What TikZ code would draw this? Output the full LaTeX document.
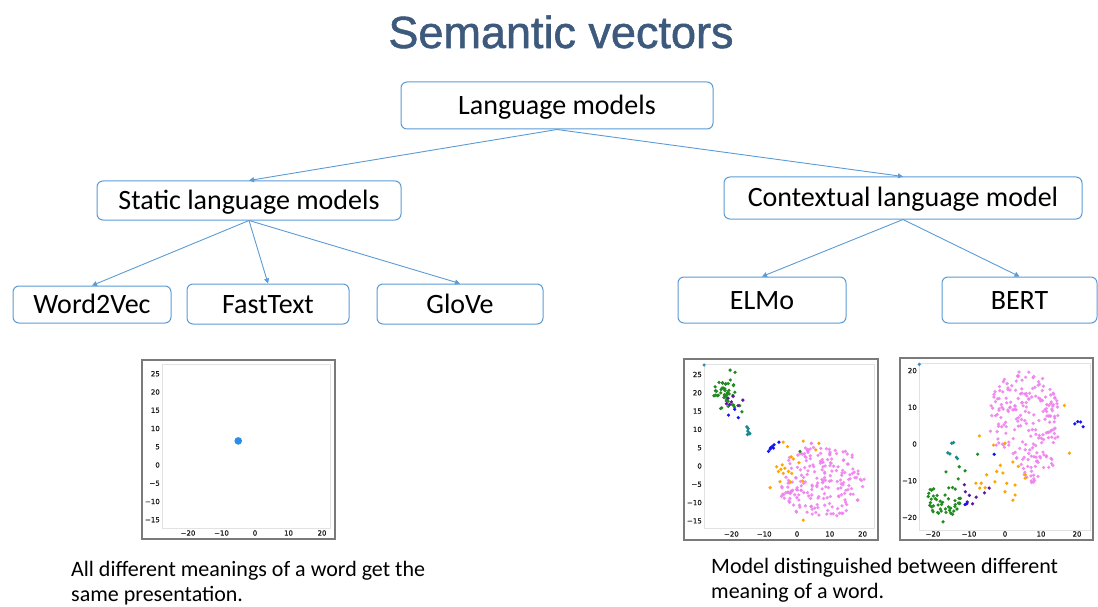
\documentclass[tikz,border=0pt]{standalone}
\usepackage{fontspec}
\setmainfont{Carlito}
\newfontfamily\titlefont[FakeBold=1.2]{Liberation Sans}
\newfontfamily\tickfont[FakeBold=0.6]{DejaVu Sans}
\usetikzlibrary{arrows.meta}

\definecolor{boxblue}{HTML}{5B9BD5}
\definecolor{titleblue}{HTML}{3D5A7C}
\definecolor{framegray}{HTML}{7A7A7A}
\definecolor{spinegray}{HTML}{E2E2E2}
\definecolor{cpink}{HTML}{EE82EE}
\definecolor{cgreen}{HTML}{228B22}
\definecolor{corange}{HTML}{FFA500}
\definecolor{cblue}{HTML}{1515F0}
\definecolor{cpurple}{HTML}{5A1A9E}
\definecolor{cteal}{HTML}{178A8C}
\definecolor{csteel}{HTML}{3C8DB8}
\definecolor{cdot}{HTML}{2B8CEB}

\tikzset{
  box/.style={draw=boxblue, line width=1pt, rounded corners=6pt, fill=white,
    inner sep=0pt, font=\fontsize{28}{34}\selectfont, text height=18pt, text depth=0pt},
  conn/.style={draw=boxblue, line width=0.9pt, -{Triangle[length=5pt,width=5pt]}},
  outerframe/.style={draw=framegray, line width=1.6pt},
  spine/.style={draw=spinegray, line width=0.8pt},
  tick/.style={font=\tickfont\fontsize{7}{8}\selectfont, text=black!90, inner sep=0pt},
  note/.style={font=\fontsize{22}{24.5}\selectfont, align=left, inner sep=0pt},
  pk/.style={fill=cpink, fill opacity=0.9},
  gr/.style={fill=cgreen},
  og/.style={fill=corange},
  bl/.style={fill=cblue},
  pu/.style={fill=cpurple},
  tl/.style={fill=cteal},
  st/.style={fill=csteel},
}
\newcommand\scatterpts[2]{\foreach \p in {#2}{\fill[#1] \p circle[radius=1.8pt];}}

\begin{document}
\begin{tikzpicture}[x=1pt,y=-1pt]
\useasboundingbox (0,0) rectangle (1098,607);

% title
\node[font=\titlefont\fontsize{45}{54}\selectfont, text=titleblue, anchor=base, inner sep=0pt]
  (title) at (561,48) {Semantic vectors};

% tree of models
\node[box, minimum width=312pt, minimum height=47pt] (lm)    at (557,105.5) {Language models};
\node[box, minimum width=304pt, minimum height=39pt] (slm)   at (249,200.5) {Static language models};
\node[box, minimum width=358pt, minimum height=42pt] (clm)   at (903,198)   {Contextual language model};
\node[box, minimum width=158pt, minimum height=37pt] (w2v)   at (92,304.5)  {Word2Vec};
\node[box, minimum width=162pt, minimum height=40pt] (ft)    at (268,304)   {FastText};
\node[box, minimum width=166pt, minimum height=40pt] (glove) at (460,304)   {GloVe};
\node[box, minimum width=168pt, minimum height=46pt] (elmo)  at (762,300)   {ELMo};
\node[box, minimum width=155pt, minimum height=46pt] (bert)  at (1019.5,300) {BERT};

\draw[conn] (lm.south)  -- (slm.north);
\draw[conn] (lm.south)  -- (clm.north);
\draw[conn] (slm.south) -- (w2v.north);
\draw[conn] (slm.south) -- (ft.north);
\draw[conn] (slm.south) -- (glove.north);
\draw[conn] (clm.south) -- (elmo.north);
\draw[conn] (clm.south) -- (bert.north);

% ---------- static embedding plot ----------
\draw[outerframe] (142,360) rectangle (335,539);
\draw[spine] (162,364) rectangle (330,528);
\foreach \v/\t in {25/25,20/20,15/15,10/10,5/5,0/0,-5/−5,-10/−10,-15/−15}
  \node[tick, anchor=east] at (160,{465-3.65*\v}) {\t};
\foreach \v/\t in {-20/−20,-10/−10,0/0,10/10,20/20}
  \node[tick] at ({255+3.35*\v},533) {\t};
\begin{scope}[shift={(255,465)}, x=3.35pt, y=3.65pt]
  \fill[cdot] (-5,6.6) circle[radius=3.8pt];
\end{scope}

% ---------- ELMo plot ----------
\draw[outerframe] (684,359) rectangle (878,540);
\draw[spine] (704,364) rectangle (874,528);
\foreach \v/\t in {25/25,20/20,15/15,10/10,5/5,0/0,-5/−5,-10/−10,-15/−15}
  \node[tick, anchor=east] at (702,{466-3.66*\v}) {\t};
\foreach \v/\t in {-20/−20,-10/−10,0/0,10/10,20/20}
  \node[tick] at ({797+3.28*\v},534) {\t};
\begin{scope}[shift={(797,466)}, x=3.28pt, y=3.66pt]
  \pgfmathsetseed{11}
  \foreach \i in {1,...,210}{
    \pgfmathsetmacro\angv{360*rnd}
    \pgfmathsetmacro\radv{sqrt(rnd)}
    \fill[pk] ({7+13.5*\radv*cos(\angv)},{-4+10.5*\radv*sin(\angv)}) circle[radius=1.8pt];
  }
  \foreach \i in {1,...,45}{
    \pgfmathsetmacro\angv{360*rnd}
    \pgfmathsetmacro\radv{sqrt(rnd)}
    \fill[gr] ({-21.5+4*\radv*cos(\angv)},{19.5+4.3*\radv*sin(\angv)}) circle[radius=1.8pt];
  }
  \scatterpts{gr}{(-20.4,26.2),(-18.9,25.6),(0.9,4.0),(-17.5,16.5),(-16.8,14.8)}
  \scatterpts{pu}{(-21,18.5),(-20,17.5),(-19.5,19),(-21.5,17),(-16.5,18),(-18,16.5),(-20.5,16.8)}
  \scatterpts{bl}{(-20.9,13.9),(-17.9,13.2),(-19,15.5)}
  \scatterpts{tl}{(-15.3,10.7),(-14.9,10.2),(-15.0,9.5),(-14.5,9),(-15.1,8.6),(-14.4,8.8)}
  \scatterpts{bl}{(-8.7,4.0),(-8.2,4.6),(-7.6,5.3),(-7.0,5.8),(-7.2,4.9),(-8,5),(-5.5,6.5)}
  \scatterpts{og}{(-4.2,6.5),(-2.9,5.3),(1.9,6.8),(5.7,4.4),(6.7,6.2),(-1.8,2.5),(-1.1,1.9),
    (0.6,0.9),(-6.2,-0.2),(-4.9,-0.9),(-3.7,-0.6),(-4.2,-2.0),(-2.6,-1.5),(-5.2,-4.3),
    (-8.2,-5.9),(-2.1,-4.3),(1.7,-4.1),(1.9,-14.8),(-1.6,-2.0),(-5.7,-1.5),(-4.5,0.3)}
  \scatterpts{st}{(-28.3,27.6)}
\end{scope}

% ---------- BERT plot ----------
\draw[outerframe] (900,358) rectangle (1093,540);
\draw[spine] (919,363) rectangle (1090,530);
\foreach \v/\t in {20/20,10/10,0/0,-10/−10,-20/−20}
  \node[tick, anchor=east] at (917,{444-3.67*\v}) {\t};
\foreach \v/\t in {-20/−20,-10/−10,0/0,10/10,20/20}
  \node[tick] at ({1005+3.6*\v},534) {\t};
\begin{scope}[shift={(1005,444)}, x=3.6pt, y=3.67pt]
  \pgfmathsetseed{23}
  \foreach \i in {1,...,190}{
    \pgfmathsetmacro\angv{360*rnd}
    \pgfmathsetmacro\radv{sqrt(rnd)}
    \fill[pk] ({5.5+10*\radv*cos(\angv)},{7+13*\radv*sin(\angv)}) circle[radius=1.8pt];
  }
  \foreach \i in {1,...,30}{
    \pgfmathsetmacro\angv{360*rnd}
    \pgfmathsetmacro\radv{sqrt(rnd)}
    \fill[pk] ({9+4.5*\radv*cos(\angv)},{-6+5*\radv*sin(\angv)}) circle[radius=1.8pt];
  }
  \foreach \i in {1,...,45}{
    \pgfmathsetmacro\angv{360*rnd}
    \pgfmathsetmacro\radv{sqrt(rnd)}
    \fill[gr] ({-17+4.8*\radv*cos(\angv)},{-15.5+4.5*\radv*sin(\angv)}) circle[radius=1.8pt];
  }
  \scatterpts{gr}{(-12.7,-6.2),(-11.1,-7.3),(-16.4,-7.6),(-7.6,-2.8),(-20.8,-12.4),(-17.2,-21.2),(-13,-9.5)}
  \scatterpts{pu}{(-11.3,-11.1),(-9.9,-14.0),(-9,-16.3),(-8,-14.5),(-5.7,-13.3),(-4.4,-12),(-10.5,-15.8),(-11,-13)}
  \scatterpts{tl}{(-14.8,0.2),(-14.3,0.4),(-15.9,-2.4),(-15.3,-2.7),(-13.2,-4),(-13.5,-3.6)}
  \scatterpts{bl}{(19.4,5.5),(20.2,6.1),(21.0,6.0),(21.7,4.7),(-3,-2.8),(-11.1,-16.5),(-10.6,-16.3)}
  \scatterpts{og}{(-7.1,2.2),(-3.2,-0.3),(0.0,0.2),(16.5,10.5),(17.9,-2.5),(-5.1,-8.4),(-2.3,-7.5),
    (-1.3,-5.8),(2.2,-4.9),(3.7,-6.1),(5.6,-8.4),(5.6,-9.3),(0.5,-10.7),(2.8,-11.2),(0.0,-13.0),
    (2.8,-13.9),(2.2,-15.3),(-2.8,-10.3),(-8.1,-10.7),(-6.6,-10.7),(-5.5,-11.9),(-0.6,-7.9),(-7,-12)}
  \scatterpts{st}{(-23.8,21.7)}
\end{scope}

% captions (anchored at the baseline of their last line)
\node[note, anchor=base west] (capL) at (71,601)
  {All different meanings of a word get the\\same presentation.};
\node[note, anchor=base west] (capR) at (711,598)
  {Model distinguished between different\\meaning of a word.};
\end{tikzpicture}
\end{document}
